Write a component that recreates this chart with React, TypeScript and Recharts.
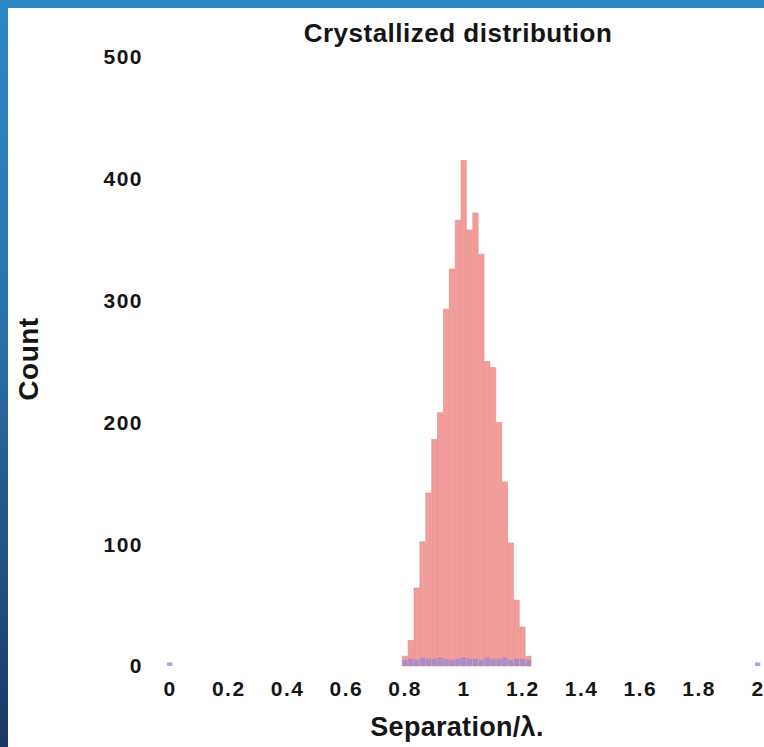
import React from 'react';
import { ComposedChart, Bar, XAxis, YAxis } from 'recharts';

// histogram bin centres (separation / lambda)
const bins = [
  0.8, 0.82, 0.84, 0.86, 0.88, 0.9, 0.92, 0.94, 0.96, 0.98, 1.0,
  1.02, 1.04, 1.06, 1.08, 1.1, 1.12, 1.14, 1.16, 1.18, 1.2, 1.22,
];
const crystalCounts = [
  8, 21, 64, 102, 142, 186, 208, 293, 326, 366, 415,
  358, 372, 338, 250, 245, 200, 151, 101, 54, 32, 8,
];
const baseCounts = [
  5, 6, 5, 7, 6, 6, 7, 6, 5, 6, 7,
  6, 6, 5, 7, 6, 6, 7, 5, 6, 6, 5,
];
// lone counts at the ends of the range
const edgeBins = [0, 2];
const edgeCounts = [3, 3];

const xTicks = [0, 0.2, 0.4, 0.6, 0.8, 1, 1.2, 1.4, 1.6, 1.8, 2];
const yTicks = [0, 100, 200, 300, 400, 500];

const data = [
  { x: edgeBins[0], crystal: 0, base: edgeCounts[0] },
  ...bins.map((b, i) => ({ x: b, crystal: crystalCounts[i], base: baseCounts[i] })),
  { x: edgeBins[1], crystal: 0, base: edgeCounts[1] },
];

const FONT = '"Liberation Sans", Arial, Helvetica, sans-serif';
const tickStyle = { fill: '#151515', fontSize: 21, fontWeight: 700, fontFamily: FONT, letterSpacing: 1.5 };

export default function App() {
  return (
    <div
      style={{
        position: 'fixed',
        left: 0,
        top: 0,
        width: 764,
        height: 747,
        overflow: 'hidden',
        background: '#ffffff',
        fontFamily: FONT,
      }}
    >
      {/* blue frame along the top and left edges */}
      <div style={{ position: 'absolute', left: 0, top: 0, width: 764, height: 8, background: '#2f88c7' }} />
      <div
        style={{
          position: 'absolute',
          left: 0,
          top: 0,
          width: 8,
          height: 747,
          background: 'linear-gradient(to bottom, #2f88c7 0%, #2a70a9 45%, #1b3862 100%)',
        }}
      />
      <div style={{ position: 'absolute', left: 0, top: 0 }}>
        <ComposedChart
          width={764}
          height={747}
          data={data}
          margin={{ top: 57, right: 6, left: 110, bottom: 41 }}
        >
          <XAxis
            xAxisId="main"
            dataKey="x"
            type="number"
            domain={[0, 2]}
            ticks={xTicks}
            interval={0}
            axisLine={false}
            tickLine={false}
            tickMargin={9}
            height={40}
            tick={tickStyle}
          />
          <XAxis xAxisId="over" dataKey="x" type="number" domain={[0, 2]} hide />
          <YAxis
            domain={[0, 500]}
            ticks={yTicks}
            interval={0}
            axisLine={false}
            tickLine={false}
            tickMargin={21}
            width={60}
            tick={tickStyle}
          />
          <Bar
            xAxisId="main"
            dataKey="crystal"
            barSize={6}
            fill="#f39c99"
            stroke="#dd8a88"
            strokeWidth={0.6}
            isAnimationActive={false}
          />
          <Bar
            xAxisId="over"
            dataKey="base"
            barSize={6}
            fill="#9a86d6"
            fillOpacity={0.75}
            isAnimationActive={false}
          />
        </ComposedChart>
      </div>
      <div
        style={{
          position: 'absolute',
          left: 458,
          top: 33,
          transform: 'translate(-50%, -50%)',
          fontSize: 26,
          fontWeight: 700,
          letterSpacing: 0.5,
          color: '#151515',
          whiteSpace: 'nowrap',
        }}
      >
        Crystallized distribution
      </div>
      <div
        style={{
          position: 'absolute',
          left: 29,
          top: 359,
          transform: 'translate(-50%, -50%) rotate(-90deg)',
          fontSize: 28,
          fontWeight: 700,
          letterSpacing: 0.5,
          color: '#151515',
          whiteSpace: 'nowrap',
        }}
      >
        Count
      </div>
      <div
        style={{
          position: 'absolute',
          left: 457,
          top: 727,
          transform: 'translate(-50%, -50%)',
          fontSize: 27,
          fontWeight: 700,
          letterSpacing: 0.3,
          color: '#151515',
          whiteSpace: 'nowrap',
        }}
      >
        Separation/λ.
      </div>
    </div>
  );
}
